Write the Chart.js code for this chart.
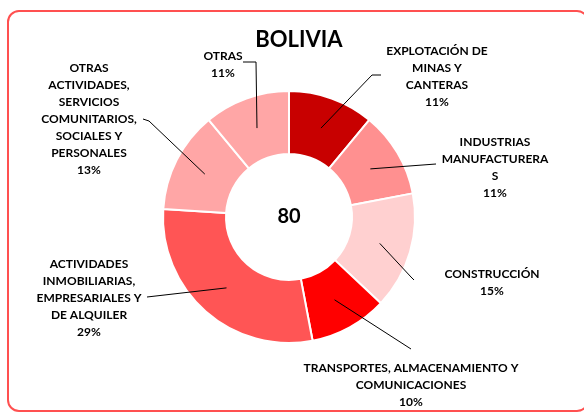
<!DOCTYPE html>
<html>
<head>
<meta charset="utf-8">
<script src="https://cdn.jsdelivr.net/npm/chart.js@4"></script>
<style>
  html, body { margin: 0; padding: 0; background: #fff; }
  #wrap { width: 584px; height: 414px; position: relative; }
</style>
</head>
<body>
<div id="wrap"><canvas id="myChart" width="584" height="414"></canvas></div>
<script>
const categories = [
  'EXPLOTACIÓN DE MINAS Y CANTERAS',
  'INDUSTRIAS MANUFACTURERAS',
  'CONSTRUCCIÓN',
  'TRANSPORTES, ALMACENAMIENTO Y COMUNICACIONES',
  'ACTIVIDADES INMOBILIARIAS, EMPRESARIALES Y DE ALQUILER',
  'OTRAS ACTIVIDADES, SERVICIOS COMUNITARIOS, SOCIALES Y PERSONALES',
  'OTRAS'
];
// wrapped the way the picture wraps them
const labelLines = [
  ['EXPLOTACIÓN DE', 'MINAS Y', 'CANTERAS'],
  ['INDUSTRIAS', 'MANUFACTURERA', 'S'],
  ['CONSTRUCCIÓN'],
  ['TRANSPORTES, ALMACENAMIENTO Y', 'COMUNICACIONES'],
  ['ACTIVIDADES', 'INMOBILIARIAS,', 'EMPRESARIALES Y', 'DE ALQUILER'],
  ['OTRAS', 'ACTIVIDADES,', 'SERVICIOS', 'COMUNITARIOS,', 'SOCIALES Y', 'PERSONALES'],
  ['OTRAS']
];
const shares = [11, 11, 15, 10, 29, 13, 11];
const centerValue = '80';
const title = 'BOLIVIA';

const colors = ['#C80000', '#FF9090', '#FFD0D0', '#FF0000', '#FF5555', '#FFA6A6', '#FFA6A6'];

// label block layout: centre x, first line y, leader path after the slice point
const labelLayout = [
  { x: 437, y: 51, path: [[372, 75], [381, 75]] },
  { x: 495, y: 142, path: [[436, 164]] },
  { x: 492, y: 274, path: [[411, 277], [414, 280]] },
  { x: 411, y: 368, path: [[411, 349]] },
  { x: 89, y: 264, path: [[147, 297]] },
  { x: 89, y: 68, path: [[149, 121], [143, 119]] },
  { x: 223, y: 56, path: [[256, 62], [243, 62]] }
];
const lineH = 17;

const framePlugin = {
  id: 'frame',
  beforeDraw(chart) {
    const c = chart.ctx;
    c.save();
    c.fillStyle = '#fff';
    c.fillRect(0, 0, chart.width, chart.height);
    c.strokeStyle = '#FF5050';
    c.lineWidth = 2;
    c.beginPath();
    c.roundRect(8, 11, 580, 400, 11);
    c.stroke();
    c.fillStyle = '#000';
    c.font = 'bold 22px Lato';
    c.textAlign = 'center';
    c.textBaseline = 'middle';
    c.fillText(title, 299, 40);
    c.restore();
  }
};

const labelPlugin = {
  id: 'sliceLabels',
  afterDatasetsDraw(chart) {
    const c = chart.ctx;
    const meta = chart.getDatasetMeta(0);
    const total = shares.reduce((a, b) => a + b, 0);
    c.save();
    meta.data.forEach((arc, i) => {
      const p = arc.getProps(['x', 'y', 'startAngle', 'endAngle', 'innerRadius', 'outerRadius'], true);
      const mid = (p.startAngle + p.endAngle) / 2;
      const r = (p.innerRadius + p.outerRadius) / 2;
      const sx = p.x + Math.cos(mid) * r;
      const sy = p.y + Math.sin(mid) * r;
      const lay = labelLayout[i];
      c.strokeStyle = '#000';
      c.lineWidth = 1;
      c.beginPath();
      c.moveTo(sx, sy);
      lay.path.forEach(pt => c.lineTo(pt[0], pt[1]));
      c.stroke();

      const lines = labelLines[i].concat([Math.round(shares[i] / total * 100) + '%']);
      c.fillStyle = '#000';
      c.font = 'bold 12px Lato';
      c.textAlign = 'center';
      c.textBaseline = 'middle';
      lines.forEach((t, k) => c.fillText(t, lay.x, lay.y + k * lineH));
    });
    const a0 = meta.data[0];
    c.font = 'bold 20px Lato';
    c.fillText(centerValue, a0.x, a0.y);
    c.restore();
  }
};

const ctx = document.getElementById('myChart').getContext('2d');
const myChart = new Chart(ctx, {
  type: 'doughnut',
  data: {
    labels: categories,
    datasets: [{
      data: shares,
      backgroundColor: colors,
      borderColor: '#fff',
      borderWidth: 2,
      hoverOffset: 0
    }]
  },
  options: {
    responsive: false,
    animation: false,
    cutout: '50%',
    layout: { padding: { top: 90, bottom: 70, left: 162, right: 168 } },
    plugins: {
      legend: { display: false },
      tooltip: { enabled: false }
    }
  },
  plugins: [framePlugin, labelPlugin]
});
</script>
</body>
</html>
